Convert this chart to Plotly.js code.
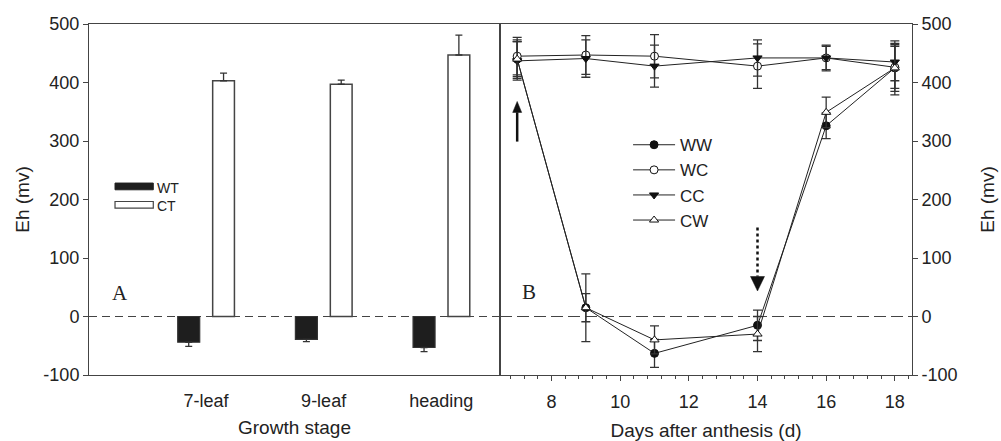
<!DOCTYPE html>
<html>
<head>
<meta charset="utf-8">
<script src="https://cdn.plot.ly/plotly-3.0.1.min.js"></script>
<style>
  html, body { margin: 0; padding: 0; background: #fff; }
  #chart { width: 1001px; height: 441px; }
</style>
</head>
<body>
<div id="chart"></div>
<script>
// ---- Panel A data (growth stage) ----
const stages = ["7-leaf", "9-leaf", "heading"];
const WT = [-44, -39, -53];
const WT_err = [7, 4, 7];
const CT = [403, 397, 447];
const CT_err = [13, 7, 34];

// ---- Panel B data (days after anthesis) ----
const days = [7, 9, 11, 14, 16, 18];
const WW = [440, 15, -63, -15, 326, 425];
const WW_err = [33, 58, 24, 26, 22, 46];
const WC = [445, 447, 445, 428, 442, 426];
const WC_err = [32, 33, 37, 38, 22, 36];
const CC = [437, 441, 428, 442, 442, 435];
const CC_err = [33, 32, 36, 31, 20, 32];
const CW = [440, 15, -40, -30, 349, 425];
const CW_err = [30, 24, 24, 30, 26, 40];

// ---- Y tick labels (shared by both panels) ----
const ehTicks = [-100, 0, 100, 200, 300, 400, 500];
const ehTickText = ["-100", "0", "100", "200", "300", "400", "500"];

const FONT = "Liberation Sans, Arial, sans-serif";
const AX = "#444";
const INK = "#222";

const zeros = stages.map(() => 0);

const traces = [
  {
    type: "bar", name: "WT", x: stages, y: WT, xaxis: "x", yaxis: "y",
    offset: -0.24, width: 0.187,
    marker: { color: "#1e1e1e", line: { color: "#333", width: 1.2 } },
    error_y: { type: "data", symmetric: false, array: zeros, arrayminus: WT_err,
               color: "#333", thickness: 1.3, width: 3.5 },
    showlegend: false
  },
  {
    type: "bar", name: "CT", x: stages, y: CT, xaxis: "x", yaxis: "y",
    offset: 0.057, width: 0.185,
    marker: { color: "#ffffff", line: { color: "#444", width: 1.5 } },
    error_y: { type: "data", symmetric: false, array: CT_err, arrayminus: zeros,
               color: "#333", thickness: 1.3, width: 3.5 },
    showlegend: false
  }
];

function lineTrace(name, ys, errs, symbol, fill) {
  return {
    type: "scatter", mode: "lines+markers", name: name,
    x: days, y: ys, xaxis: "x2", yaxis: "y2",
    line: { color: INK, width: 1 },
    marker: { symbol: symbol, size: 8, color: fill, line: { color: "#111", width: 1 } },
    error_y: { type: "data", array: errs, color: "#333", thickness: 1.3, width: 4.5 }
  };
}
traces.push(lineTrace("WW", WW, WW_err, "circle", "#111"));
traces.push(lineTrace("WC", WC, WC_err, "circle", "#ffffff"));
traces.push(lineTrace("CC", CC, CC_err, "triangle-down", "#111"));
traces.push(lineTrace("CW", CW, CW_err, "triangle-up", "#ffffff"));

const tickFont = { family: FONT, size: 18, color: INK };
const titleFont = { family: FONT, size: 19, color: INK };

const layout = {
  width: 1001, height: 441,
  margin: { l: 89, r: 89, t: 24, b: 66, pad: 0 },
  paper_bgcolor: "#fff", plot_bgcolor: "#fff",
  font: { family: FONT, color: INK },
  barmode: "overlay",
  showlegend: true,
  legend: {
    x: 0.655, y: 0.706, xanchor: "left", yanchor: "top",
    bgcolor: "rgba(0,0,0,0)", font: { family: FONT, size: 17, color: INK },
    itemwidth: 42, tracegroupgap: 0
  },
  xaxis: {
    domain: [0, 0.4994], type: "category", range: [-0.994, 2.499],
    showline: true, linecolor: AX, linewidth: 1, mirror: true,
    ticks: "", showgrid: false, zeroline: false,
    tickfont: tickFont, ticklabelstandoff: 9,
    title: { text: "Growth stage", font: titleFont, standoff: 11 },
    automargin: false
  },
  yaxis: {
    domain: [0, 1], range: [-100, 500], tickmode: "array",
    tickvals: ehTicks, ticktext: ehTickText,
    showline: true, linecolor: AX, linewidth: 1, mirror: true,
    ticks: "outside", ticklen: 5, tickcolor: AX,
    showgrid: false, zeroline: false, tickfont: tickFont,
    title: { text: "Eh (mv)", font: titleFont, standoff: 8 },
    automargin: false
  },
  xaxis2: {
    domain: [0.4994, 1], anchor: "y2", range: [6.5, 18.5], dtick: 2, tick0: 0,
    showline: true, linecolor: AX, linewidth: 1, mirror: true,
    ticks: "outside", ticklen: 5, tickcolor: AX,
    minor: { dtick: 0.4, tick0: 0, ticks: "outside", ticklen: 3, tickcolor: AX, showgrid: false },
    showgrid: false, zeroline: false, tickfont: tickFont, ticklabelstandoff: 5,
    title: { text: "Days after anthesis (d)", font: titleFont, standoff: 14 },
    automargin: false
  },
  yaxis2: {
    domain: [0, 1], anchor: "x2", side: "right", range: [-100, 500], tickmode: "array",
    tickvals: ehTicks, ticktext: ehTickText,
    showline: true, linecolor: AX, linewidth: 1, mirror: true,
    ticks: "outside", ticklen: 5, tickcolor: AX,
    showgrid: false, zeroline: false, tickfont: tickFont,
    title: { text: "Eh (mv)", font: titleFont, standoff: 24 },
    automargin: false
  },
  shapes: [
    // zero reference lines
    { type: "line", xref: "x domain", yref: "y", x0: 0, x1: 1, y0: 0, y1: 0,
      line: { color: "#444", width: 1.2, dash: "8px,5px" }, layer: "below" },
    { type: "line", xref: "x2 domain", yref: "y2", x0: 0, x1: 1, y0: 0, y1: 0,
      line: { color: "#444", width: 1.2, dash: "12px,5px" }, layer: "below" },
    // left legend swatches
    { type: "rect", xref: "x domain", yref: "y", x0: 0.0633, x1: 0.1564, y0: 216.6, y1: 228.1,
      fillcolor: "#1e1e1e", line: { color: "#222", width: 1 } },
    { type: "rect", xref: "x domain", yref: "y", x0: 0.0633, x1: 0.1564, y0: 185.3, y1: 196.6,
      fillcolor: "#fff", line: { color: "#444", width: 1.2 } },
    // solid up arrow (day 7)
    { type: "line", xref: "x2", yref: "y2", x0: 7, x1: 7, y0: 299, y1: 349,
      line: { color: "#111", width: 2.5 } },
    { type: "path", xref: "x2", yref: "y2", xsizemode: "pixel", ysizemode: "pixel",
      xanchor: 7, yanchor: 348.8, path: "M-4.5,0 L4.5,0 L0,11 Z",
      fillcolor: "#111", line: { color: "#111", width: 0.5 } },
    // dotted down arrow (day 14)
    { type: "line", xref: "x2", yref: "y2", x0: 14, x1: 14, y0: 152, y1: 68.4,
      line: { color: "#111", width: 2.5, dash: "dot" } },
    { type: "path", xref: "x2", yref: "y2", xsizemode: "pixel", ysizemode: "pixel",
      xanchor: 14, yanchor: 68.4, path: "M-7,0 L7,0 L0,-14.5 Z",
      fillcolor: "#111", line: { color: "#111", width: 0.5 } }
  ],
  annotations: [
    { text: "WT", xref: "x domain", yref: "y", x: 0.16, y: 220, xanchor: "left", yanchor: "middle",
      showarrow: false, font: { family: FONT, size: 14, color: INK } },
    { text: "CT", xref: "x domain", yref: "y", x: 0.16, y: 189.3, xanchor: "left", yanchor: "middle",
      showarrow: false, font: { family: FONT, size: 14, color: INK } },
    { text: "A", xref: "x domain", yref: "y", x: 0.075, y: 40.5, xanchor: "center", yanchor: "middle",
      showarrow: false, font: { family: "Liberation Serif, Times New Roman, serif", size: 21, color: INK } },
    { text: "B", xref: "x2 domain", yref: "y2", x: 0.07, y: 42.7, xanchor: "center", yanchor: "middle",
      showarrow: false, font: { family: "Liberation Serif, Times New Roman, serif", size: 21, color: INK } }
  ]
};

Plotly.newPlot("chart", traces, layout, { staticPlot: true, displayModeBar: false });
</script>
</body>
</html>
